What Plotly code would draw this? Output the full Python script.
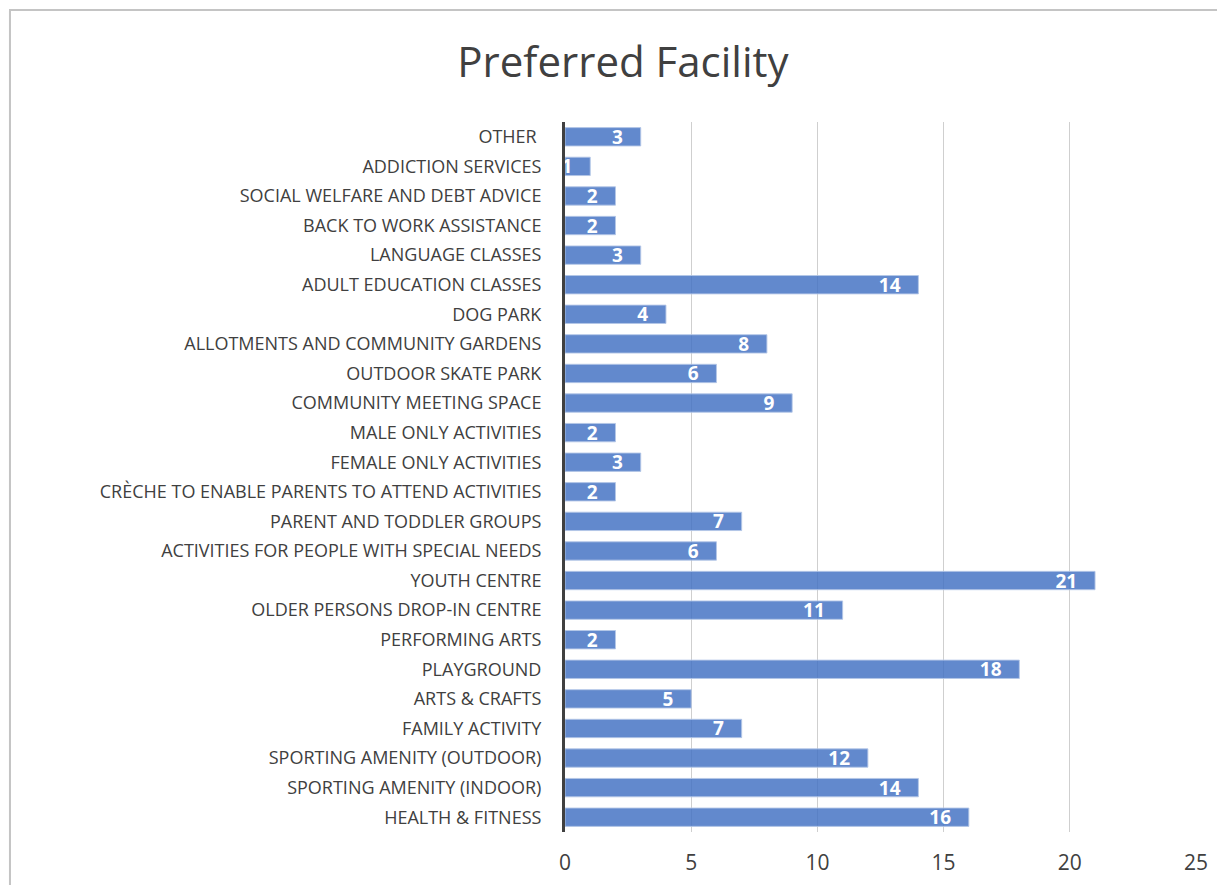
import plotly.graph_objects as go

# Categories listed bottom to top (as plotted on the y axis)
facilities = [
    "HEALTH & FITNESS",
    "SPORTING AMENITY (INDOOR)",
    "SPORTING AMENITY (OUTDOOR)",
    "FAMILY ACTIVITY",
    "ARTS & CRAFTS",
    "PLAYGROUND",
    "PERFORMING ARTS",
    "OLDER PERSONS DROP-IN CENTRE",
    "YOUTH CENTRE",
    "ACTIVITIES FOR PEOPLE WITH SPECIAL NEEDS",
    "PARENT AND TODDLER GROUPS",
    "CRÈCHE TO ENABLE PARENTS TO ATTEND ACTIVITIES",
    "FEMALE ONLY ACTIVITIES",
    "MALE ONLY ACTIVITIES",
    "COMMUNITY MEETING SPACE",
    "OUTDOOR SKATE PARK",
    "ALLOTMENTS AND COMMUNITY GARDENS",
    "DOG PARK",
    "ADULT EDUCATION CLASSES",
    "LANGUAGE CLASSES",
    "BACK TO WORK ASSISTANCE",
    "SOCIAL WELFARE AND DEBT ADVICE",
    "ADDICTION SERVICES",
    "OTHER ",
]
counts = [16, 14, 12, 7, 5, 18, 2, 11, 21, 6, 7, 2, 3, 2, 9, 6, 8, 4, 14, 3, 2, 2, 1, 3]

x_ticks = [0, 5, 10, 15, 20, 25]

fig = go.Figure()

fig.add_trace(
    go.Bar(
        x=counts,
        y=facilities,
        orientation="h",
        marker={
            "color": "rgba(68,114,196,0.84)",
            "line": {"color": "rgba(180,199,231,0.9)", "width": 1},
        },
        texttemplate="%{x}\u00a0\u00a0\u00a0",
        textposition="inside",
        insidetextanchor="end",
        textangle=0,
        constraintext="none",
        textfont={"family": "Open Sans", "size": 19, "color": "white", "weight": "bold"},
        cliponaxis=False,
    )
)

# light grey chart frame (clipped by the window on the right and bottom)
fig.add_shape(
    type="rect",
    xref="paper",
    yref="paper",
    x0=-0.8796,
    x1=1.1,
    y0=-0.12,
    y1=1.1577,
    line={"color": "#C4C4C4", "width": 2},
    layer="below",
)

fig.update_layout(
    title={
        "text": "Preferred Facility",
        "x": 0.502,
        "xref": "container",
        "y": 0.939,
        "yref": "container",
        "yanchor": "middle",
        "font": {"family": "Open Sans", "size": 42, "color": "#404040"},
    },
    width=1225,
    height=885,
    margin={"l": 557, "r": 37, "t": 114, "b": 61},
    paper_bgcolor="white",
    plot_bgcolor="white",
    showlegend=False,
    bargap=0.38,
    xaxis={
        "range": [0, 25],
        "tickvals": x_ticks,
        "showgrid": True,
        "gridcolor": "#CFCFCF",
        "gridwidth": 1,
        "zeroline": False,
        "ticks": "outside",
        "ticklen": 12,
        "tickcolor": "rgba(0,0,0,0)",
        "tickfont": {"family": "Open Sans", "size": 21, "color": "#404040"},
    },
    yaxis={
        "showline": True,
        "linecolor": "#404040",
        "linewidth": 3,
        "showgrid": False,
        "ticks": "outside",
        "ticklen": 17,
        "tickcolor": "rgba(0,0,0,0)",
        "tickfont": {"family": "Open Sans", "size": 18, "color": "#404040"},
    },
)

fig.write_html("out.html")
